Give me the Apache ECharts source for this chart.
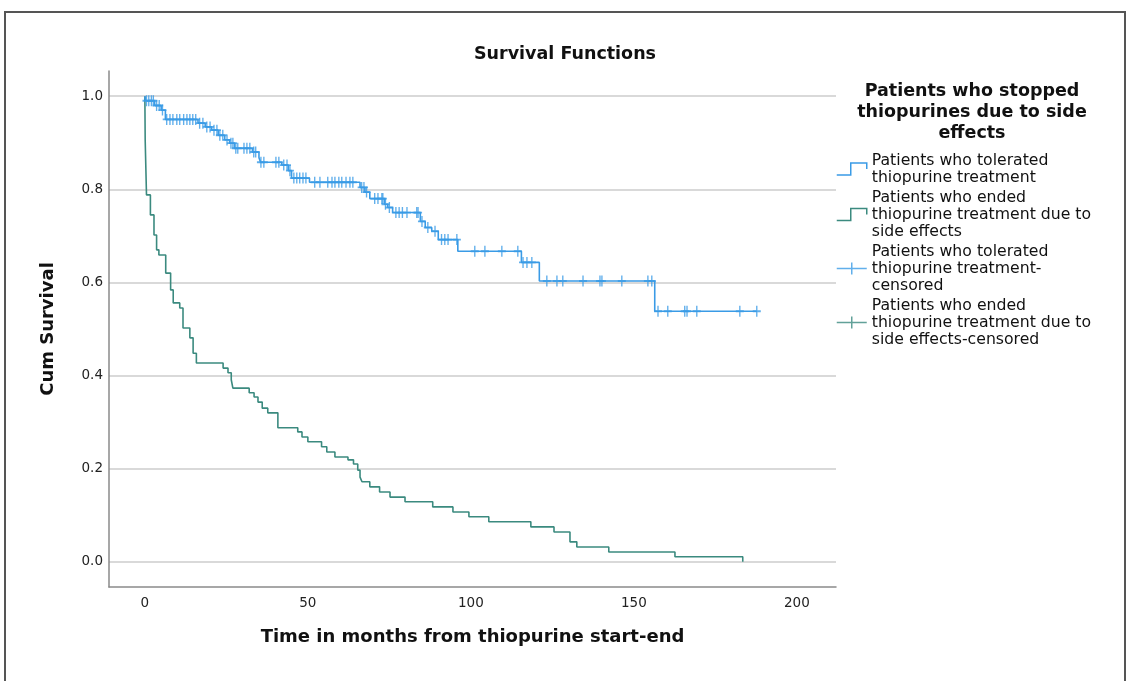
<!DOCTYPE html>
<html>
<head>
<meta charset="utf-8">
<script src="https://cdn.jsdelivr.net/npm/echarts@6/dist/echarts.min.js"></script>
<style>html,body{margin:0;padding:0;background:#fff;}#c{width:1130px;height:681px;}</style>
</head>
<body>
<div id="c"></div>
<script>
// Kaplan-Meier step data (time in months, cumulative survival)
const toleratedTimes = [0, 0.2, 3, 5, 6.3, 16.3, 18.5, 20.5, 22.5, 24.5, 26, 27.5, 33, 35, 35.5, 42, 44, 45, 50.5, 66, 67.5, 69, 73.5, 74.5, 76, 84.5, 86, 88, 90, 96, 115.5, 121, 156.4, 187.7];
const toleratedSurv  = [1.0, 0.99, 0.98, 0.97, 0.95, 0.942, 0.934, 0.927, 0.916, 0.906, 0.899, 0.888, 0.88, 0.868, 0.858, 0.852, 0.84, 0.824, 0.815, 0.804, 0.794, 0.78, 0.768, 0.761, 0.75, 0.731, 0.718, 0.71, 0.692, 0.667, 0.643, 0.603, 0.538, 0.538];
const toleratedCensorTimes = [0.5, 1.2, 2, 2.6, 3.6, 4.4, 5.4, 6.7, 7.7, 8.6, 9.8, 10.7, 11.9, 12.9, 13.8, 14.7, 15.6, 16.8, 17.8, 19, 20, 21.2, 22.1, 23, 23.9, 25.2, 26.4, 27, 27.9, 28.5, 30.4, 31.3, 32.2, 33.4, 34, 35.6, 36.5, 40.2, 41.1, 42.6, 43.6, 44.5, 45.7, 46.6, 47.5, 48.5, 49.4, 52.1, 53.7, 56.1, 57.4, 58.3, 59.5, 60.4, 61.7, 62.9, 63.8, 66.5, 67.2, 68, 70.5, 71.5, 72.7, 73, 73.8, 75, 77, 78, 79, 80.4, 83.4, 83.8, 85, 86.8, 89, 91, 92, 93, 95.7, 101.2, 104.3, 109.5, 114.4, 116, 117.2, 118.7, 123.3, 126.4, 128.2, 134.4, 139.6, 140.2, 146.3, 154.3, 155.5, 157.4, 160.4, 165.6, 166.3, 169.3, 182.5, 187.7];

const endedTimes = [0, 0.1, 0.5, 1.7, 2.8, 3.6, 4.3, 6.4, 7.9, 8.7, 10.7, 11.7, 13.8, 14.8, 15.8, 24, 25.5, 26.5, 27, 32, 33.5, 34.7, 36, 37.7, 40.8, 46.9, 48.2, 50, 54.2, 55.8, 58.3, 62.3, 64, 65.3, 66, 66.6, 69, 72, 75.2, 79.8, 88.3, 94.5, 99.4, 105.5, 118.4, 125.5, 130.4, 132.5, 142.3, 162.6, 183.4];
const endedSurv  = [1.0, 0.906, 0.788, 0.745, 0.702, 0.67, 0.659, 0.62, 0.584, 0.556, 0.545, 0.502, 0.481, 0.448, 0.427, 0.416, 0.406, 0.391, 0.373, 0.363, 0.354, 0.343, 0.33, 0.32, 0.288, 0.279, 0.268, 0.258, 0.247, 0.236, 0.225, 0.219, 0.21, 0.197, 0.182, 0.172, 0.161, 0.15, 0.139, 0.129, 0.118, 0.107, 0.097, 0.086, 0.075, 0.064, 0.043, 0.032, 0.021, 0.011, 0.0];
const endedCensorTimes = [];

const xTickValues = [0, 50, 100, 150, 200];
const yTickValues = [0, 0.2, 0.4, 0.6, 0.8, 1.0];

const seriesNames = [
  'Patients who tolerated\nthiopurine treatment',
  'Patients who ended\nthiopurine treatment due to\nside effects',
  'Patients who tolerated\nthiopurine treatment-\ncensored',
  'Patients who ended\nthiopurine treatment due to\nside effects-censored'
];
const legendTitle = 'Patients who stopped\nthiopurines due to side\neffects';

const BLUE = '#3a9be6';
const TEAL = '#3b8a7f';

function pairs(ts, ss) { return ts.map((t, i) => [t, ss[i]]); }
function survAt(ts, ss, t) {
  let v = ss[0];
  for (let i = 0; i < ts.length; i++) { if (ts[i] <= t) v = ss[i]; }
  return v;
}
function censorPts(cts, ts, ss) { return cts.map(t => [t, survAt(ts, ss, t)]); }

const stepIcon = 'path://M0,8 L14,8 L14,0 L30,0 L30,4';
const plusIcon = 'path://M0,6 L30,6 M15,0 L15,12';
const plusMark = 'path://M0,5 L8,5 M4,0 L4,10';

const chart = echarts.init(document.getElementById('c'), null, {renderer: 'canvas'});
chart.setOption({
  animation: false,
  backgroundColor: '#ffffff',
  title: [
    { text: 'Survival Functions', left: 565, top: 45, textAlign: 'center', padding: 0,
      textStyle: { fontFamily: 'DejaVu Sans', fontWeight: 'bold', fontSize: 17.5, color: '#111' } },
    { text: legendTitle, left: 972, top: 81, textAlign: 'center', padding: 0,
      textStyle: { fontFamily: 'DejaVu Sans', fontWeight: 'bold', fontSize: 17.5, lineHeight: 21, color: '#111' } }
  ],
  graphic: [
    { type: 'rect', shape: { x: 5, y: 12, width: 1120, height: 700 }, style: { fill: 'none', stroke: '#555', lineWidth: 2 }, silent: true }
  ],
  legend: {
    orient: 'vertical', left: 836, top: 152, padding: 0, itemGap: 3,
    itemWidth: 30, itemHeight: 12, symbolKeepAspect: false,
    textStyle: { fontFamily: 'DejaVu Sans', fontSize: 15.7, lineHeight: 17, color: '#111' },
    data: [
      { name: seriesNames[0], icon: stepIcon, itemStyle: { color: 'rgba(0,0,0,0)', borderColor: BLUE, borderWidth: 1.5 } },
      { name: seriesNames[1], icon: stepIcon, itemStyle: { color: 'rgba(0,0,0,0)', borderColor: TEAL, borderWidth: 1.5 } },
      { name: seriesNames[2], icon: plusIcon, itemStyle: { color: 'rgba(0,0,0,0)', borderColor: BLUE, borderWidth: 1.5 } },
      { name: seriesNames[3], icon: plusIcon, itemStyle: { color: 'rgba(0,0,0,0)', borderColor: TEAL, borderWidth: 1.5 } }
    ]
  },
  grid: { left: 109, right: 294, top: 71, bottom: 94, containLabel: false },
  xAxis: {
    type: 'value', min: -11, max: 212,
    name: 'Time in months from thiopurine start-end', nameLocation: 'middle', nameGap: 41,
    nameTextStyle: { fontFamily: 'DejaVu Sans', fontWeight: 'bold', fontSize: 18, color: '#111' },
    axisLine: { show: true, onZero: false, lineStyle: { color: '#8a8a8a', width: 1.5 } },
    axisTick: { show: false, customValues: xTickValues },
    axisLabel: { customValues: xTickValues, margin: 9, fontFamily: 'DejaVu Sans', fontSize: 13.5, color: '#222' },
    splitLine: { show: false }
  },
  yAxis: {
    type: 'value', min: -0.054, max: 1.054,
    name: 'Cum Survival', nameLocation: 'middle', nameGap: 52,
    nameTextStyle: { fontFamily: 'DejaVu Sans', fontWeight: 'bold', fontSize: 18, color: '#111' },
    axisLine: { show: true, onZero: false, lineStyle: { color: '#8a8a8a', width: 1.5 } },
    axisTick: { show: false, customValues: yTickValues },
    axisLabel: { customValues: yTickValues, margin: 6, fontFamily: 'DejaVu Sans', fontSize: 13.5, color: '#222',
      formatter: v => v.toFixed(1) },
    splitLine: { show: true, lineStyle: { color: '#cccccc', width: 1.5 } }
  },
  series: [
    { name: seriesNames[0], type: 'line', step: 'end', showSymbol: false, symbol: 'none',
      data: pairs(toleratedTimes, toleratedSurv), lineStyle: { color: BLUE, width: 1.6 }, itemStyle: { color: BLUE }, z: 3 },
    { name: seriesNames[1], type: 'line', step: 'end', showSymbol: false, symbol: 'none',
      data: pairs(endedTimes, endedSurv), lineStyle: { color: TEAL, width: 1.6 }, itemStyle: { color: TEAL }, z: 2 },
    { name: seriesNames[2], type: 'scatter', symbol: plusMark, symbolSize: [8, 11],
      data: censorPts(toleratedCensorTimes, toleratedTimes, toleratedSurv),
      itemStyle: { color: 'rgba(0,0,0,0)', borderColor: BLUE, borderWidth: 1.6 }, z: 4 },
    { name: seriesNames[3], type: 'scatter', symbol: plusMark, symbolSize: [8, 11],
      data: censorPts(endedCensorTimes, endedTimes, endedSurv),
      itemStyle: { color: 'rgba(0,0,0,0)', borderColor: TEAL, borderWidth: 1.6 }, z: 4 }
  ]
});
</script>
</body>
</html>
